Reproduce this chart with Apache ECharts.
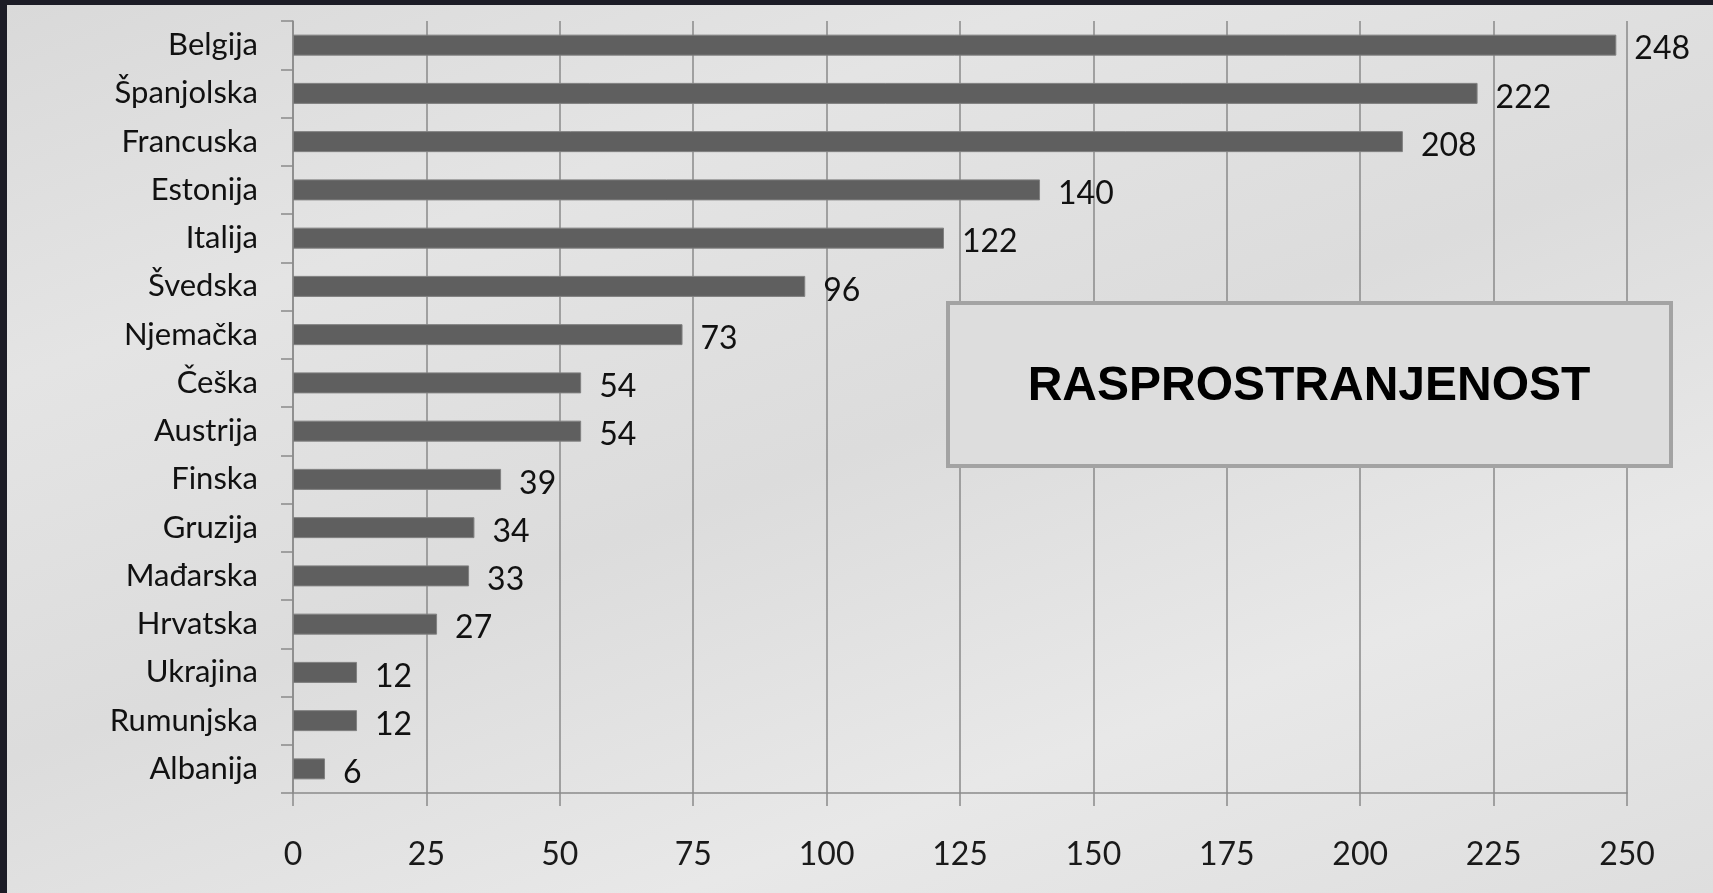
<!DOCTYPE html>
<html>
<head>
<meta charset="utf-8">
<script src="https://cdn.jsdelivr.net/npm/echarts@6/dist/echarts.min.js"></script>
<style>
html,body{margin:0;padding:0;width:1713px;height:893px;overflow:hidden;background:#1c1c26;}
#chart{position:absolute;left:7px;top:5px;width:1706px;height:888px;
background:linear-gradient(160deg,#d9d9d9 0%,#e4e4e4 25%,#dcdcdc 50%,#e8e8e8 75%,#dedede 100%);}
</style>
</head>
<body>
<div id="chart"></div>
<script>
const categories = ["Belgija","Španjolska","Francuska","Estonija","Italija","Švedska","Njemačka","Češka","Austrija","Finska","Gruzija","Mađarska","Hrvatska","Ukrajina","Rumunjska","Albanija"];
const values = [248,222,208,140,122,96,73,54,54,39,34,33,27,12,12,6];
const xTicks = [0,25,50,75,100,125,150,175,200,225,250];
const boxTitle = "RASPROSTRANJENOST";

const chart = echarts.init(document.getElementById('chart'), null, {renderer:'canvas'});
const font = 'Lato, "Open Sans", sans-serif';
chart.setOption({
  animation:false,
  grid:{left:286, top:16, right:86, bottom:100},
  xAxis:{
    type:'value', min:xTicks[0], max:xTicks[xTicks.length-1], interval:25,
    axisLine:{show:true, lineStyle:{color:'#8a8a8a', width:1.5}},
    axisTick:{show:true, length:13, lineStyle:{color:'#8a8a8a', width:1.5}},
    axisLabel:{margin:46, fontFamily:font, fontSize:32, color:'#1a1a1a'},
    splitLine:{show:true, lineStyle:{color:'#8a8a8a', width:1.5}}
  },
  yAxis:{
    type:'category', data:categories, inverse:true,
    axisLine:{show:true, lineStyle:{color:'#8a8a8a', width:1.5}},
    axisTick:{show:true, length:12, lineStyle:{color:'#8a8a8a', width:1.5}},
    axisLabel:{margin:35, fontFamily:font, fontSize:31, color:'#111'},
    splitLine:{show:false}
  },
  series:[{
    type:'bar', data:values, barWidth:21,
    itemStyle:{color:'#5f5f5f', borderColor:'#808080', borderWidth:1},
    label:{show:true, position:'right', distance:18, fontFamily:font, fontSize:32, color:'#111', offset:[0,4]}
  }],
  graphic:[{
    type:'group', left:939, top:296, z:100,
    children:[
      {type:'rect', z:100, shape:{x:0,y:0,width:723,height:163}, style:{fill:'#dddddd', stroke:'#a3a3a3', lineWidth:4}},
      {type:'text', z:101, x:361, y:84, style:{text:boxTitle, fill:'#000', font:'bold 48px "Liberation Sans", Arial, sans-serif', textAlign:'center', textVerticalAlign:'middle'}}
    ]
  }]
});
</script>
</body>
</html>
